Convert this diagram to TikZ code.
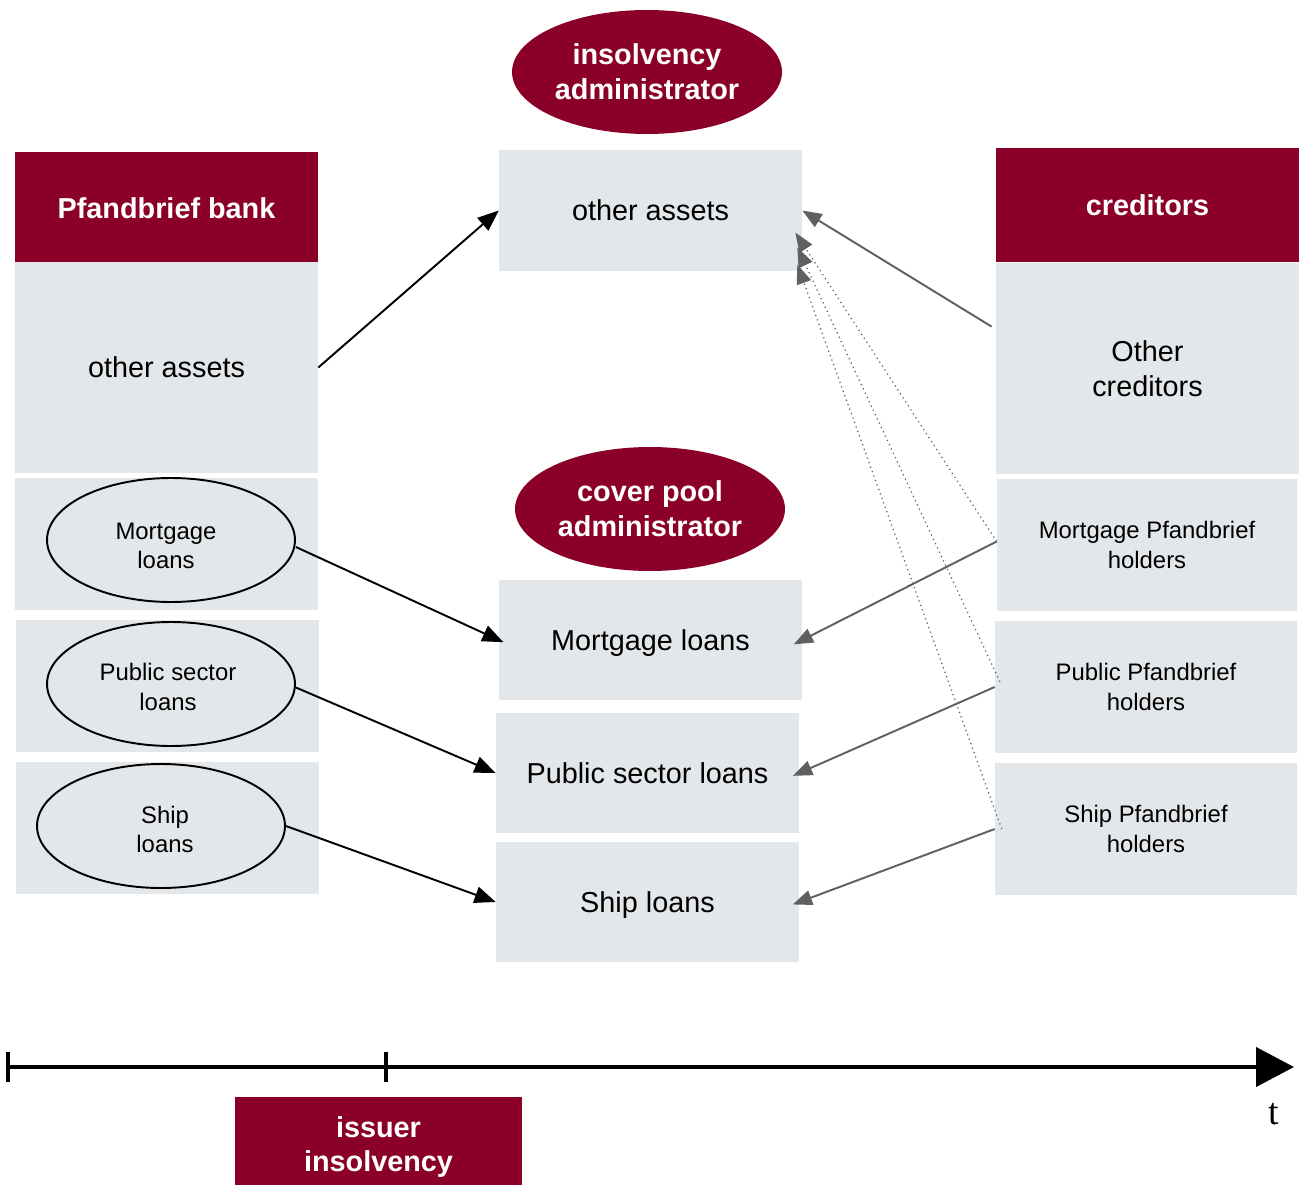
\documentclass[tikz,border=0pt]{standalone}
\usepackage{fontspec}
\setmainfont{Liberation Sans}
\newfontfamily\serifft{Liberation Serif}
\usetikzlibrary{arrows.meta,shapes.geometric,calc}
\definecolor{bankred}{RGB}{138,0,41}
\definecolor{boxgray}{RGB}{228,231,234}
\definecolor{arrgray}{RGB}{96,96,96}
\begin{document}
\begin{tikzpicture}[x=0.02cm,y=-0.02cm,
 bigf/.style={font=\fontsize{16.4}{19.8}\selectfont},
 smallf/.style={font=\fontsize{13.6}{16.8}\selectfont},
 hdr/.style={fill=bankred,text=white,font=\bfseries\fontsize{16.4}{19.8}\selectfont,minimum width=6.06cm,align=center,inner sep=0pt},
 gbox/.style={fill=boxgray,minimum width=6.06cm,align=center,inner sep=0pt},
 oneline/.style={text height=11.8pt,text depth=0pt},
 loan/.style={ellipse,draw=black,line width=1.1pt,minimum width=4.96cm,minimum height=2.48cm,inner sep=0pt},
 loantext/.style={align=center,smallf,inner sep=0pt},
 admin/.style={ellipse,fill=bankred,text=white,minimum width=5.4cm,minimum height=2.48cm,inner sep=0pt,align=center,font=\bfseries\fontsize{16.4}{19.8}\selectfont},
 blackarr/.style={-{Triangle[length=12pt,width=9.5pt]},line width=1.1pt,black},
 grayarr/.style={-{Triangle[length=11pt,width=8.5pt]},line width=1.1pt,arrgray},
 dotarr/.style={-{Triangle[length=11pt,width=8.5pt]},line width=0.7pt,arrgray,dotted},
 tick/.style={line width=2.4pt,black}
]
\useasboundingbox (0,0) rectangle (1300,1185);
% left column
\node[hdr,minimum height=2.2cm,text height=12.6pt,text depth=0pt] (bankhdr) at (166.5,207) {Pfandbrief bank};
\node[gbox,bigf,oneline,minimum height=4.22cm] (bankoa) at (166.5,367.5) {other assets};
\node[gbox,minimum height=2.64cm] (lmort) at (166.5,544) {};
\node[gbox,minimum height=2.64cm] (lpub) at (167.5,686) {};
\node[gbox,minimum height=2.64cm] (lship) at (167.5,828) {};
\node[loan] (e1) at (171,540) {};
\node[loan] (e2) at (171,684) {};
\node[loan] (e3) at (161,826) {};
\node[loantext] (e1t) at ($(e1)+(-5,6)$) {Mortgage\\loans};
\node[loantext] (e2t) at ($(e2)+(-3,3)$) {Public sector\\loans};
\node[loantext] (e3t) at ($(e3)+(4,3.5)$) {Ship\\loans};
% middle column
\node[admin] (insadm) at (647,72) {insolvency\\administrator};
\node[gbox,bigf,oneline,minimum height=2.42cm] (midoa) at (650.5,210.5) {other assets};
\node[admin] (cpadm) at (650,509) {cover pool\\administrator};
\node[gbox,bigf,oneline,minimum height=2.4cm] (midmort) at (650.5,640) {Mortgage loans};
\node[gbox,bigf,oneline,minimum height=2.4cm] (midpub) at (647.5,773) {Public sector loans};
\node[gbox,bigf,oneline,minimum height=2.4cm] (midship) at (647.5,902) {Ship loans};
% right column
\node[hdr,minimum height=2.28cm,text height=12pt,text depth=0pt] (credhdr) at (1147.5,205) {creditors};
\node[gbox,bigf,minimum height=4.22cm] (othcred) at (1147.5,368.5) {Other\\creditors};
\node[gbox,smallf,minimum width=6cm,minimum height=2.64cm] (rmort) at (1147,545) {Mortgage Pfandbrief\\holders};
\node[gbox,smallf,minimum width=6.04cm,minimum height=2.64cm] (rpub) at (1146,687) {Public Pfandbrief\\holders};
\node[gbox,smallf,minimum width=6.04cm,minimum height=2.64cm] (rship) at (1146,829) {Ship Pfandbrief\\holders};
% black arrows
\draw[blackarr] (bankoa.east) -- (midoa.west);
\draw[blackarr,shorten >=-3pt] ([yshift=-4pt]e1.east) -- (midmort.west);
\draw[blackarr] ([yshift=-2pt]e2.east) -- (midpub.west);
\draw[blackarr] (e3.east) -- (midship.west);
% gray arrows
\draw[grayarr] ($(othcred.north west)+(-4,64)$) -- (midoa.east);
\draw[grayarr,shorten >=-5.5pt] ([yshift=2pt]rmort.west) -- (midmort.east);
\draw[grayarr,shorten >=-4pt] (rpub.west) -- (midpub.east);
\draw[grayarr,shorten >=-4pt] (rship.west) -- (midship.east);
% dotted arrows
\draw[dotarr] ([yshift=2pt]rmort.west) -- ($(midoa.east)+(-7,22)$);
\draw[dotarr] ([xshift=3pt,yshift=3pt]rpub.west) -- ($(midoa.east)+(-5,37)$);
\draw[dotarr] ([xshift=4pt]rship.west) -- ($(midoa.east)+(-5,54)$);
% timeline
\coordinate (t0) at (8,1067);
\coordinate (t1) at (386,1067);
\coordinate (t2) at (1294,1067);
\draw[line width=2.4pt,-{Triangle[length=0.76cm,width=0.78cm]}] (t0) -- (t2);
\draw[tick] ($(t0)+(0,-15)$) -- ($(t0)+(0,15)$);
\draw[tick] ($(t1)+(0,-15)$) -- ($(t1)+(0,15)$);
\node[font=\serifft\fontsize{21.5}{24}\selectfont,inner sep=0pt] (tlabel) at (1274,1114) {t};
\node[hdr,minimum width=5.74cm,minimum height=2cm] (issuer) at (378.5,1147) {issuer\\insolvency};
\end{tikzpicture}
\end{document}
